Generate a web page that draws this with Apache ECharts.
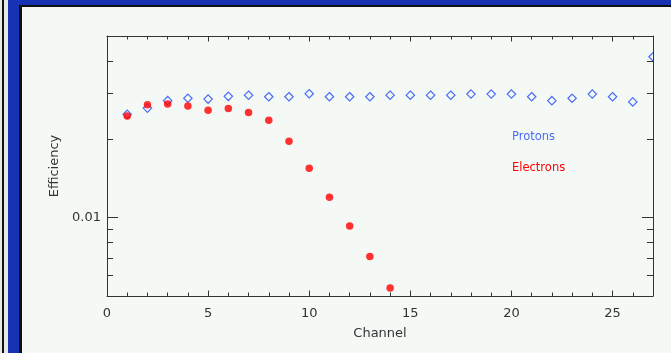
<!DOCTYPE html>
<html>
<head>
<meta charset="utf-8">
<script src="https://cdn.jsdelivr.net/npm/echarts@6/dist/echarts.min.js"></script>
<style>
  html, body { margin: 0; padding: 0; background: #f4f9f6; }
  #frame { position: relative; width: 671px; height: 353px; overflow: hidden; background: #f4f9f6; }
  .strip { position: absolute; }
  #chart { position: absolute; left: 0; top: 0; width: 671px; height: 353px; }
</style>
</head>
<body>
<div id="frame">
  <!-- window frame around the plot panel -->
  <div class="strip" style="left:0;top:0;width:8px;height:353px;background:#e6e8e6;"></div>
  <div class="strip" style="left:2px;top:0;width:2px;height:353px;background:#111;"></div>
  <div class="strip" style="left:8px;top:0;width:663px;height:5px;background:#1733b4;"></div>
  <div class="strip" style="left:8px;top:0;width:11px;height:353px;background:#1733b4;"></div>
  <div class="strip" style="left:19px;top:5px;width:652px;height:2px;background:#111;"></div>
  <div class="strip" style="left:19px;top:5px;width:3px;height:348px;background:#111;"></div>
  <div id="chart"></div>
</div>
<script>
// Channel numbers (x) and measured efficiencies per particle type
const channels = [1, 2, 3, 4, 5, 6, 7, 8, 9, 10, 11, 12, 13, 14, 15, 16, 17, 18, 19, 20, 21, 22, 23, 24, 25, 26, 27];
const protonEff = [0.0250, 0.0264, 0.0282, 0.0288, 0.0286, 0.0293, 0.0296, 0.0292, 0.0292, 0.0300,
                   0.0292, 0.0292, 0.0292, 0.0296, 0.0296, 0.0296, 0.0296, 0.0299, 0.0299, 0.0299,
                   0.0292, 0.0282, 0.0288, 0.0299, 0.0292, 0.0279, 0.0416];
const electronChannels = [1, 2, 3, 4, 5, 6, 7, 8, 9, 10, 11, 12, 13, 14];
const electronEff = [0.0246, 0.0272, 0.0274, 0.0269, 0.0259, 0.0263, 0.0254, 0.0237, 0.0197, 0.0155,
                     0.0120, 0.0093, 0.0071, 0.00537];

// Axis ranges, labels and tick positions
const X_MIN = 0, X_MAX = 27;
const Y_MIN = 0.005, Y_MAX = 0.05;
const xLabelValues = [0, 5, 10, 15, 20, 25];
const xMajorTicks = [5, 10, 15, 20, 25];
const yLabelValues = [0.01];
const yMajorTicks = [0.01];
const yMinorTicks = [0.006, 0.007, 0.008, 0.009, 0.02, 0.03, 0.04];

const FONT = 'DejaVu Sans';
const INK = '#333333';
const PROTON_COLOR = '#4b6cf6';
const ELECTRON_COLOR = '#ff0000';

const crisp = v => Math.round(v - 0.5) + 0.5;
function tickLine(x1, y1, x2, y2) {
  return { type: 'line', shape: { x1: x1, y1: y1, x2: x2, y2: y2 }, style: { stroke: INK, lineWidth: 1 } };
}

// Inward ticks of a given length on the left and right frame edges
function yTickRenderer(len) {
  return function (params, api) {
    const cs = params.coordSys;
    const y = crisp(api.coord([X_MIN, api.value(1)])[1]);
    const left = cs.x, right = cs.x + cs.width;
    return { type: 'group', children: [tickLine(left, y, left + len, y), tickLine(right, y, right - len, y)] };
  };
}

function tickSeries(renderItem, data) {
  return {
    type: 'custom', xAxisIndex: 0, yAxisIndex: 0, clip: false, silent: true, z: 5,
    encode: { x: 0, y: 1 }, renderItem: renderItem, data: data
  };
}

// Hollow diamond marker, clipped to the plot frame
function renderDiamond(params, api) {
  const cs = params.coordSys;
  const p = api.coord([api.value(0), api.value(1)]);
  const r = 4.2;
  return {
    type: 'polygon',
    shape: { points: [[p[0], p[1] - r], [p[0] + r, p[1]], [p[0], p[1] + r], [p[0] - r, p[1]]] },
    style: { fill: 'none', stroke: PROTON_COLOR, lineWidth: 1.2 },
    clipPath: { type: 'rect', shape: { x: cs.x, y: cs.y, width: cs.width, height: cs.height } }
  };
}

const lineStyle = { color: INK, width: 1 };
const textStyle = { color: INK, fontFamily: FONT, fontSize: 13 };

// x axes: every channel gets a short inward tick, multiples of 5 a longer one, on bottom and top
function xAxisDef(position, majorOnly, showLine, showLabel) {
  const ax = {
    type: 'value', min: X_MIN, max: X_MAX, position: position,
    splitLine: { show: false },
    axisLine: { show: showLine, lineStyle: lineStyle },
    axisTick: { show: true, inside: true, length: majorOnly ? 5.5 : 3.5, lineStyle: { color: INK, width: 1 } },
    axisLabel: { show: false }
  };
  if (majorOnly) ax.axisTick.customValues = xMajorTicks; else ax.interval = 1;
  if (showLabel) {
    ax.axisLabel = { show: true, customValues: xLabelValues, margin: 11, ...textStyle };
    ax.name = 'Channel';
    ax.nameLocation = 'middle';
    ax.nameGap = 31;
    ax.nameTextStyle = textStyle;
  }
  return ax;
}

const chart = echarts.init(document.getElementById('chart'), null, { renderer: 'canvas' });
chart.setOption({
  backgroundColor: 'transparent',
  animation: false,
  grid: { left: 107, right: 18, top: 36, bottom: 57, containLabel: false },
  legend: {
    orient: 'vertical', left: 502, top: 125, itemWidth: 0, itemHeight: 14, itemGap: 18,
    icon: 'none', selectedMode: false,
    textStyle: { fontFamily: FONT, fontSize: 11.5 },
    data: [
      { name: 'Protons', textStyle: { color: PROTON_COLOR } },
      { name: 'Electrons', textStyle: { color: ELECTRON_COLOR } }
    ]
  },
  xAxis: [
    xAxisDef('bottom', false, true, true),
    xAxisDef('bottom', true, false, false),
    xAxisDef('top', false, true, false),
    xAxisDef('top', true, false, false)
  ],
  yAxis: [
    {
      type: 'log', logBase: 10, min: Y_MIN, max: Y_MAX, position: 'left',
      splitLine: { show: false },
      axisLine: { show: true, onZero: false, lineStyle: lineStyle },
      axisTick: { show: false },
      axisLabel: {
        customValues: yLabelValues, margin: 6, ...textStyle,
        formatter: v => String(+(+v).toPrecision(3))
      },
      name: 'Efficiency', nameLocation: 'middle', nameGap: 45, nameTextStyle: textStyle
    },
    {
      type: 'log', logBase: 10, min: Y_MIN, max: Y_MAX, position: 'right',
      splitLine: { show: false },
      axisLine: { show: true, onZero: false, lineStyle: lineStyle },
      axisTick: { show: false },
      axisLabel: { show: false }
    }
  ],
  series: [
    {
      name: 'Electrons', type: 'scatter', xAxisIndex: 0, yAxisIndex: 0,
      symbol: 'circle', symbolSize: 7.5,
      itemStyle: { color: ELECTRON_COLOR },
      data: electronChannels.map((c, i) => [c, electronEff[i]])
    },
    {
      name: 'Protons', type: 'custom', xAxisIndex: 0, yAxisIndex: 0, clip: true,
      itemStyle: { color: PROTON_COLOR },
      renderItem: renderDiamond,
      encode: { x: 0, y: 1 },
      data: channels.map((c, i) => [c, protonEff[i]])
    },
    tickSeries(yTickRenderer(11), yMajorTicks.map(v => [X_MIN, v])),
    tickSeries(yTickRenderer(6), yMinorTicks.map(v => [X_MIN, v]))
  ]
});
</script>
</body>
</html>
